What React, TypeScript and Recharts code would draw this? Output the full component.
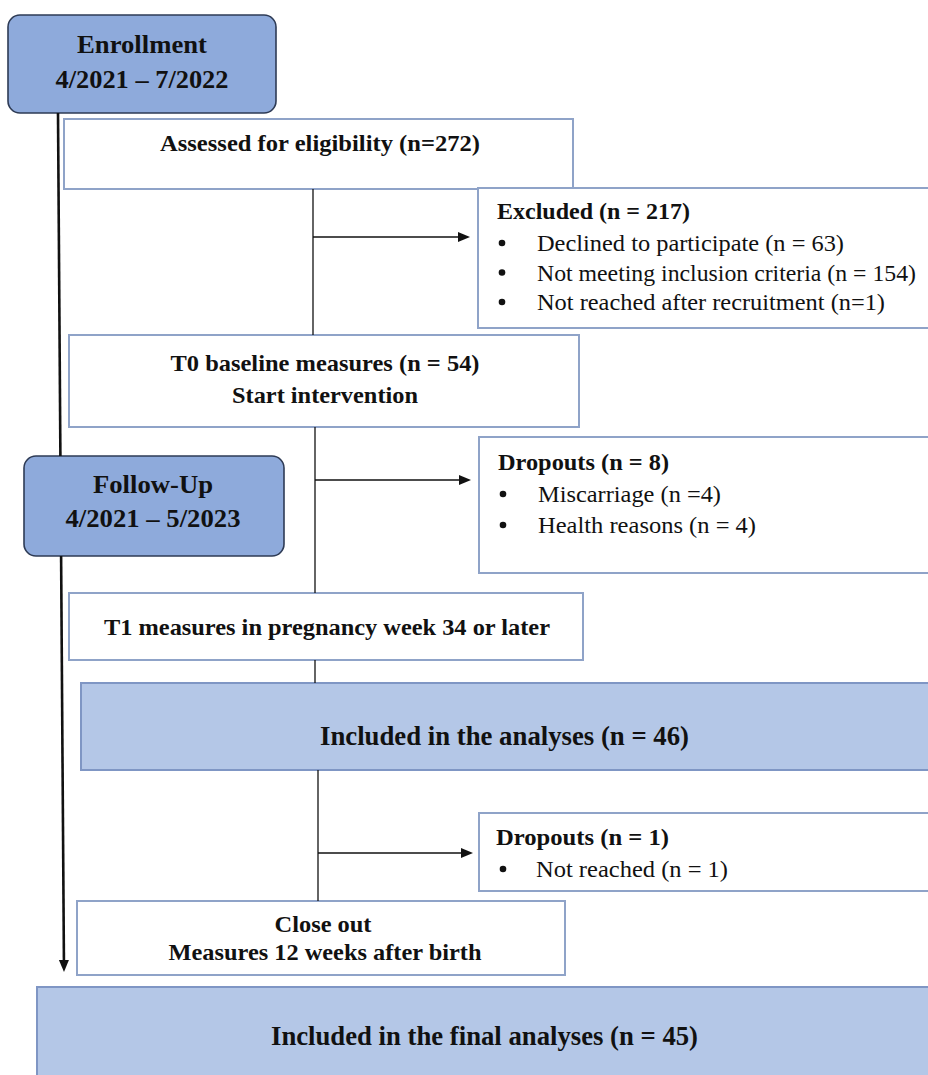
import React from 'react'
import { ComposedChart, XAxis, YAxis, ReferenceArea, ReferenceLine } from 'recharts'

// texts of the flow diagram
const phaseNames = ['Enrollment', 'Follow-Up']
const phasePeriods = ['4/2021 – 7/2022', '4/2021 – 5/2023']
const stepLabels = [
  'Assessed for eligibility (n=272)',
  'T0 baseline measures (n = 54)',
  'Start intervention',
  'T1 measures in pregnancy week 34 or later',
  'Close out',
  'Measures 12 weeks after birth',
]
const analysisLabels = ['Included in the analyses (n = 46)', 'Included in the final analyses (n = 45)']
const sideHeaders = ['Excluded (n = 217)', 'Dropouts (n = 8)', 'Dropouts (n = 1)']
const excludedReasons = [
  'Declined to participate (n = 63)',
  'Not meeting inclusion criteria (n = 154)',
  'Not reached after recruitment (n=1)',
]
const dropoutReasonsT1 = ['Miscarriage (n =4)', 'Health reasons (n = 4)']
const dropoutReasonsT2 = ['Not reached (n = 1)']

const W = 928
const H = 1075
const FONT = '"Liberation Serif", "Times New Roman", serif'

const BOX_STYLES: Record<string, any> = {
  phase: { fill: '#8EAADB', stroke: '#2E3B55', strokeWidth: 1.6, rx: 12 },
  step: { fill: '#FFFFFF', stroke: '#8FA3C8', strokeWidth: 2, rx: 0 },
  side: { fill: '#FFFFFF', stroke: '#8FA3C8', strokeWidth: 2, rx: 0 },
  result: { fill: '#B4C7E7', stroke: '#7F96C4', strokeWidth: 2, rx: 0 },
}

type TextLine = { text: string; dx: number; dy: number; w: number; bold?: boolean; center?: boolean; bullet?: boolean; size?: number }
type Box = { x1: number; x2: number; y1: number; y2: number; kind: string; lines: TextLine[] }

const sideLines = (header: string, items: string[], headerW: number, itemW: number[], dy0: number, gap: number): TextLine[] => [
  { text: header, dx: 19, dy: dy0, w: headerW, bold: true },
  ...items.map((t, i) => ({ text: t, dx: 59, dy: dy0 + 32 + i * gap, w: itemW[i], bullet: true })),
]

const boxes: Box[] = [
  {
    x1: 8, x2: 276, y1: 15, y2: 113, kind: 'phase',
    lines: [
      { text: phaseNames[0], dx: 134, dy: 38, w: 130, bold: true, center: true, size: 25 },
      { text: phasePeriods[0], dx: 134, dy: 73, w: 173, bold: true, center: true, size: 25 },
    ],
  },
  {
    x1: 64, x2: 573, y1: 119, y2: 189, kind: 'step',
    lines: [{ text: stepLabels[0], dx: 256, dy: 32, w: 320, bold: true, center: true }],
  },
  {
    x1: 478, x2: 935, y1: 188, y2: 328, kind: 'side',
    lines: sideLines(sideHeaders[0], excludedReasons, 193, [307, 379, 348], 31, 29.5),
  },
  {
    x1: 69, x2: 579, y1: 335, y2: 427, kind: 'step',
    lines: [
      { text: stepLabels[1], dx: 256, dy: 36, w: 309, bold: true, center: true },
      { text: stepLabels[2], dx: 256, dy: 68, w: 186, bold: true, center: true },
    ],
  },
  {
    x1: 479, x2: 935, y1: 437, y2: 573, kind: 'side',
    lines: sideLines(sideHeaders[1], dropoutReasonsT1, 171, [183, 218], 33, 31),
  },
  {
    x1: 24, x2: 284, y1: 456, y2: 556, kind: 'phase',
    lines: [
      { text: phaseNames[1], dx: 129, dy: 37, w: 120, bold: true, center: true, size: 25 },
      { text: phasePeriods[1], dx: 129, dy: 71, w: 175, bold: true, center: true, size: 25 },
    ],
  },
  {
    x1: 69, x2: 583, y1: 593, y2: 660, kind: 'step',
    lines: [{ text: stepLabels[3], dx: 258, dy: 42, w: 446, bold: true, center: true }],
  },
  {
    x1: 81, x2: 935, y1: 683, y2: 770, kind: 'result',
    lines: [{ text: analysisLabels[0], dx: 423.5, dy: 62, w: 369, bold: true, center: true, size: 27 }],
  },
  {
    x1: 479, x2: 935, y1: 813, y2: 891, kind: 'side',
    lines: sideLines(sideHeaders[2], dropoutReasonsT2, 173, [192], 32, 31).map((l, i) => (i === 0 ? { ...l, dx: 17 } : { ...l, dx: 57 })),
  },
  {
    x1: 77, x2: 565, y1: 901, y2: 975, kind: 'step',
    lines: [
      { text: stepLabels[4], dx: 246, dy: 31, w: 97, bold: true, center: true },
      { text: stepLabels[5], dx: 248, dy: 59, w: 313, bold: true, center: true },
    ],
  },
  {
    x1: 37, x2: 935, y1: 987, y2: 1085, kind: 'result',
    lines: [{ text: analysisLabels[1], dx: 447.5, dy: 58, w: 427, bold: true, center: true, size: 27 }],
  },
]

// connector segments, arrow = arrowhead at the second point
const connectors = [
  { from: { x: 58, y: 113 }, to: { x: 60.4, y: 456 }, arrow: false, width: 2.6 },
  { from: { x: 61.1, y: 556 }, to: { x: 64, y: 972 }, arrow: true, width: 2.6 },
  { from: { x: 313, y: 189 }, to: { x: 313, y: 335 }, arrow: false, width: 1.3 },
  { from: { x: 313, y: 237 }, to: { x: 470, y: 237 }, arrow: true, width: 1.3 },
  { from: { x: 315, y: 427 }, to: { x: 315, y: 593 }, arrow: false, width: 1.3 },
  { from: { x: 315, y: 480 }, to: { x: 471, y: 480 }, arrow: true, width: 1.3 },
  { from: { x: 315, y: 660 }, to: { x: 315, y: 683 }, arrow: false, width: 1.3 },
  { from: { x: 318, y: 770 }, to: { x: 318, y: 901 }, arrow: false, width: 1.3 },
  { from: { x: 318, y: 853 }, to: { x: 473, y: 853 }, arrow: true, width: 1.3 },
]

function BoxShape(props: any) {
  const { x, y, width, height, box } = props
  const st = BOX_STYLES[box.kind]
  return (
    <g>
      <rect x={x} y={y} width={width} height={height} rx={st.rx} ry={st.rx}
        fill={st.fill} stroke={st.stroke} strokeWidth={st.strokeWidth} />
      {box.lines.map((ln: TextLine, i: number) => (
        <g key={i}>
          {ln.bullet && <circle cx={x + 24} cy={y + ln.dy - 8} r={3.3} fill="#111" />}
          <text
            x={x + ln.dx}
            y={y + ln.dy}
            textAnchor={ln.center ? 'middle' : 'start'}
            fontFamily={FONT}
            fontSize={ln.size ?? 24}
            fontWeight={ln.bold ? 700 : 400}
            textLength={ln.w}
            lengthAdjust="spacingAndGlyphs"
            fill="#111"
          >
            {ln.text}
          </text>
        </g>
      ))}
    </g>
  )
}

function ConnectorShape(props: any) {
  const { x1, y1, x2, y2, arrow, width } = props
  if (!arrow) {
    return <line x1={x1} y1={y1} x2={x2} y2={y2} stroke="#111" strokeWidth={width} />
  }
  const ang = Math.atan2(y2 - y1, x2 - x1)
  const len = 12
  const half = 5
  const bx = x2 - len * Math.cos(ang)
  const by = y2 - len * Math.sin(ang)
  const px = -Math.sin(ang) * half
  const py = Math.cos(ang) * half
  return (
    <g>
      <line x1={x1} y1={y1} x2={bx} y2={by} stroke="#111" strokeWidth={width} />
      <polygon points={`${x2},${y2} ${bx + px},${by + py} ${bx - px},${by - py}`} fill="#111" />
    </g>
  )
}

const frame = [{ x: 0 }, { x: W }]

export default function App() {
  return (
    <div style={{ position: 'absolute', left: 0, top: 0, width: W, height: H, overflow: 'hidden', background: '#fff' }}>
      <ComposedChart width={W} height={H} data={frame} margin={{ top: 0, right: 0, bottom: 0, left: 0 }}>
        <XAxis dataKey="x" type="number" domain={[0, W]} hide allowDataOverflow />
        <YAxis type="number" domain={[0, H]} reversed hide allowDataOverflow />
        {connectors.map((c, i) => (
          <ReferenceLine
            key={`c-${i}`}
            segment={[c.from, c.to]}
            ifOverflow="visible"
            stroke="#111"
            shape={(p: any) => <ConnectorShape {...p} arrow={c.arrow} width={c.width} />}
          />
        ))}
        {boxes.map((b, i) => (
          <ReferenceArea
            key={`b-${i}`}
            x1={b.x1}
            x2={b.x2}
            y1={b.y1}
            y2={b.y2}
            ifOverflow="visible"
            shape={(p: any) => <BoxShape {...p} box={b} />}
          />
        ))}
      </ComposedChart>
    </div>
  )
}
